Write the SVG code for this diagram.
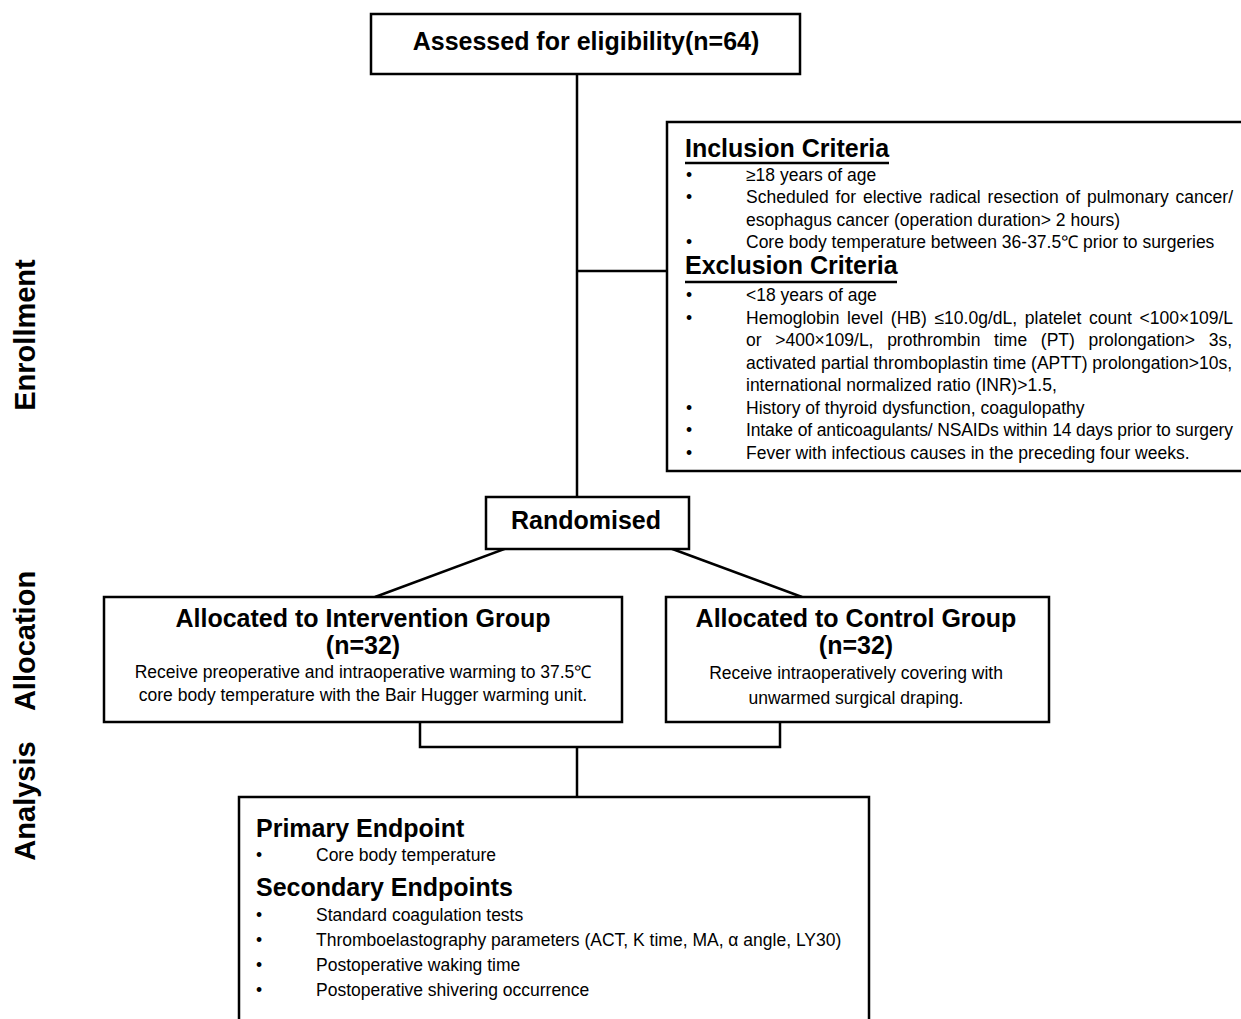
<svg xmlns="http://www.w3.org/2000/svg" width="1241" height="1019" viewBox="0 0 1241 1019">
<style>
text{font-family:"Liberation Sans",Arial,sans-serif;fill:#000}
.box{fill:#fff;stroke:#000;stroke-width:2.5}
.ln{fill:none;stroke:#000;stroke-width:2.5}
.h{font-weight:bold;font-size:25px}
.b{font-size:17.5px}
.sec{font-weight:bold;font-size:29px}
.c{text-anchor:middle}
</style>
<rect width="1241" height="1019" fill="#fff"/>
<g id="sections">
<text class="sec c" transform="translate(35,335) rotate(-90)">Enrollment</text>
<text class="sec c" transform="translate(35,641) rotate(-90)">Allocation</text>
<text class="sec c" transform="translate(35,801) rotate(-90)">Analysis</text>
</g>
<g id="connectors">
<line class="ln" x1="577" y1="74" x2="577" y2="497"/>
<line class="ln" x1="577" y1="271" x2="667" y2="271"/>
<line class="ln" x1="510" y1="547" x2="375" y2="597"/>
<line class="ln" x1="667" y1="547" x2="802" y2="597"/>
<polyline class="ln" points="420,722 420,747 780,747 780,722"/>
<line class="ln" x1="577" y1="747" x2="577" y2="797"/>
</g>
<g id="assessed">
<rect class="box" x="371" y="14" width="429" height="60"/>
<text class="h c" x="586" y="50">Assessed for eligibility(n=64)</text>
</g>
<g id="criteria">
<rect class="box" x="667" y="122" width="590" height="349"/>
<text class="h" x="685" y="157">Inclusion Criteria</text>
<line class="ln" x1="685" y1="163" x2="889" y2="163"/>
<text class="b" x="686" y="181">•</text><text class="b" x="746" y="181">≥18 years of age</text>
<text class="b" x="686" y="203">•</text><text class="b" x="746" y="203" word-spacing="2" textLength="487" lengthAdjust="spacing">Scheduled for elective radical resection of pulmonary cancer/</text>
<text class="b" x="746" y="226">esophagus cancer (operation duration&gt; 2 hours)</text>
<text class="b" x="686" y="248">•</text><text class="b" x="746" y="248">Core body temperature between 36-37.5℃ prior to surgeries</text>
<text class="h" x="685" y="274">Exclusion Criteria</text>
<line class="ln" x1="685" y1="282" x2="897" y2="282"/>
<text class="b" x="686" y="301">•</text><text class="b" x="746" y="301">&lt;18 years of age</text>
<text class="b" x="686" y="324">•</text><text class="b" x="746" y="324" word-spacing="2.8" textLength="487" lengthAdjust="spacing">Hemoglobin level (HB) ≤10.0g/dL, platelet count &lt;100×109/L</text>
<text class="b" x="746" y="346" word-spacing="8.8" textLength="486" lengthAdjust="spacing">or &gt;400×109/L, prothrombin time (PT) prolongation&gt; 3s,</text>
<text class="b" x="746" y="369" textLength="486" lengthAdjust="spacing">activated partial thromboplastin time (APTT) prolongation&gt;10s,</text>
<text class="b" x="746" y="391">international normalized ratio (INR)&gt;1.5,</text>
<text class="b" x="686" y="414">•</text><text class="b" x="746" y="414">History of thyroid dysfunction, coagulopathy</text>
<text class="b" x="686" y="436">•</text><text class="b" x="746" y="436" textLength="487" lengthAdjust="spacing">Intake of anticoagulants/ NSAIDs within 14 days prior to surgery</text>
<text class="b" x="686" y="459">•</text><text class="b" x="746" y="459">Fever with infectious causes in the preceding four weeks.</text>
</g>
<g id="randomised">
<rect class="box" x="486" y="497" width="203" height="52"/>
<text class="h c" x="586" y="529">Randomised</text>
</g>
<g id="intervention">
<rect class="box" x="104" y="597" width="518" height="125"/>
<text class="h c" x="363" y="627">Allocated to Intervention Group</text>
<text class="h c" x="363" y="654">(n=32)</text>
<text class="b c" x="363" y="678">Receive preoperative and intraoperative warming to 37.5℃</text>
<text class="b c" x="363" y="701">core body temperature with the Bair Hugger warming unit.</text>
</g>
<g id="control">
<rect class="box" x="666" y="597" width="383" height="125"/>
<text class="h c" x="856" y="627">Allocated to Control Group</text>
<text class="h c" x="856" y="654">(n=32)</text>
<text class="b c" x="856" y="679">Receive intraoperatively covering with</text>
<text class="b c" x="856" y="704">unwarmed surgical draping.</text>
</g>
<g id="endpoints">
<rect class="box" x="239" y="797" width="630" height="240"/>
<text class="h" x="256" y="837">Primary Endpoint</text>
<text class="b" x="256" y="861">•</text><text class="b" x="316" y="861">Core body temperature</text>
<text class="h" x="256" y="896">Secondary Endpoints</text>
<text class="b" x="256" y="921">•</text><text class="b" x="316" y="921">Standard coagulation tests</text>
<text class="b" x="256" y="946">•</text><text class="b" x="316" y="946">Thromboelastography parameters (ACT, K time, MA, α angle, LY30)</text>
<text class="b" x="256" y="971">•</text><text class="b" x="316" y="971">Postoperative waking time</text>
<text class="b" x="256" y="996">•</text><text class="b" x="316" y="996">Postoperative shivering occurrence</text>
</g>
</svg>
